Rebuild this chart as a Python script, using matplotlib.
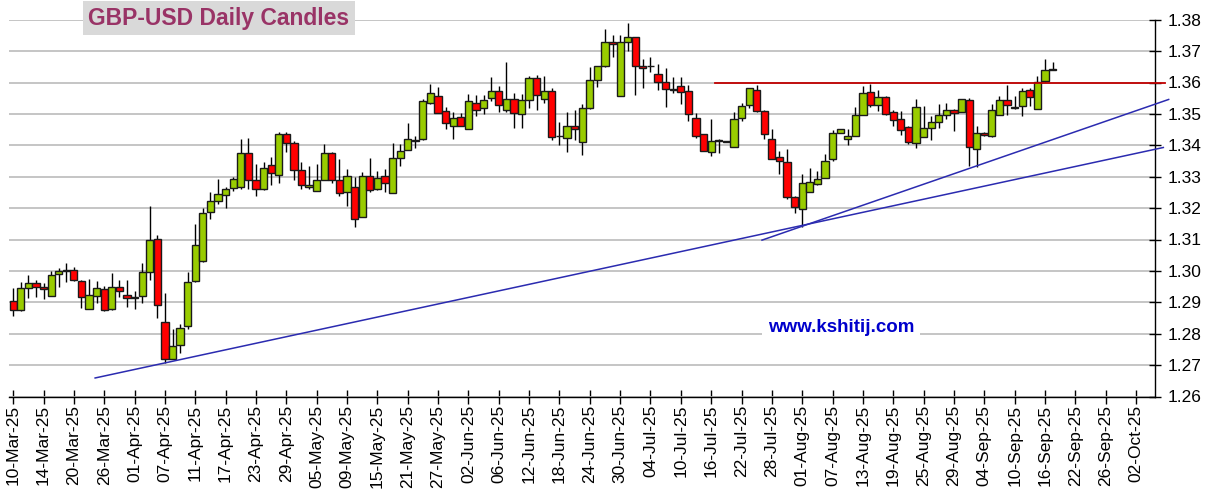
import matplotlib
matplotlib.use("Agg")
import matplotlib.pyplot as plt
import numpy as np

plt.rcParams['font.family'] = ['Liberation Sans', 'DejaVu Sans']

tick_labels = ["10-Mar-25", "14-Mar-25", "20-Mar-25", "26-Mar-25", "01-Apr-25", "07-Apr-25",
               "11-Apr-25", "17-Apr-25", "23-Apr-25", "29-Apr-25", "05-May-25", "09-May-25",
               "15-May-25", "21-May-25", "27-May-25", "02-Jun-25", "06-Jun-25", "12-Jun-25",
               "18-Jun-25", "24-Jun-25", "30-Jun-25", "04-Jul-25", "10-Jul-25", "16-Jul-25",
               "22-Jul-25", "28-Jul-25", "01-Aug-25", "07-Aug-25", "13-Aug-25", "19-Aug-25",
               "25-Aug-25", "29-Aug-25", "04-Sep-25", "10-Sep-25", "16-Sep-25", "22-Sep-25",
               "26-Sep-25", "02-Oct-25"]

opens = [1.2904, 1.2876, 1.2945, 1.2961, 1.2950, 1.2920, 1.2989, 1.3000, 1.3002, 1.2967,
         1.2879, 1.2920, 1.2941, 1.2879, 1.2948, 1.2922, 1.2913, 1.2920, 1.2996, 1.3101,
         1.2836, 1.2721, 1.2765, 1.2825, 1.2968, 1.3030, 1.3189, 1.3222, 1.3243, 1.3265,
         1.3268, 1.3376, 1.3291, 1.3260, 1.3337, 1.3304, 1.3436, 1.3408, 1.3320, 1.3268,
         1.3256, 1.3291, 1.3376, 1.3291, 1.3251, 1.3267, 1.3171, 1.3301, 1.3262, 1.3301,
         1.3248, 1.3360, 1.3385, 1.3416, 1.3421, 1.3536, 1.3557, 1.3509, 1.3463, 1.3490,
         1.3451, 1.3536, 1.3520, 1.3552, 1.3573, 1.3511, 1.3549, 1.3499, 1.3545, 1.3614,
         1.3548, 1.3574, 1.3431, 1.3422, 1.3460, 1.3412, 1.3518, 1.3607, 1.3651, 1.3729,
         1.3557, 1.3729, 1.3744, 1.3651, 1.3651, 1.3627, 1.3603, 1.3580, 1.3589, 1.3572,
         1.3488, 1.3435, 1.3379, 1.3417, 1.3413, 1.3395, 1.3488, 1.3527, 1.3577, 1.3509,
         1.3419, 1.3363, 1.3346, 1.3235, 1.3197, 1.3251, 1.3278, 1.3296, 1.3355, 1.3438,
         1.3421, 1.3431, 1.3496, 1.3570, 1.3527, 1.3554, 1.3507, 1.3484, 1.3459, 1.3407,
         1.3426, 1.3455, 1.3474, 1.3495, 1.3514, 1.3506, 1.3543, 1.3388, 1.3439, 1.3431,
         1.3495, 1.3543, 1.3523, 1.3525, 1.3575, 1.3516, 1.3605, 1.3643]
highs = [1.2945, 1.2964, 1.2987, 1.2971, 1.2961, 1.2999, 1.3009, 1.3024, 1.3012, 1.2971,
         1.2973, 1.2969, 1.2951, 1.2993, 1.2971, 1.2971, 1.2935, 1.3024, 1.3207, 1.3114,
         1.2931, 1.2814, 1.2830, 1.2998, 1.3148, 1.3201, 1.3251, 1.3293, 1.3268, 1.3300,
         1.3421, 1.3424, 1.3339, 1.3347, 1.3363, 1.3443, 1.3443, 1.3413, 1.3346, 1.3334,
         1.3339, 1.3403, 1.3378, 1.3357, 1.3323, 1.3299, 1.3314, 1.3360, 1.3317, 1.3323,
         1.3406, 1.3403, 1.3470, 1.3430, 1.3547, 1.3595, 1.3587, 1.3523, 1.3506, 1.3502,
         1.3563, 1.3559, 1.3559, 1.3619, 1.3589, 1.3665, 1.3566, 1.3563, 1.3622, 1.3624,
         1.3622, 1.3582, 1.3473, 1.3507, 1.3513, 1.3531, 1.3648, 1.3651, 1.3771, 1.3752,
         1.3752, 1.3789, 1.3746, 1.3676, 1.3680, 1.3659, 1.3646, 1.3619, 1.3619, 1.3593,
         1.3504, 1.3437, 1.3485, 1.3420, 1.3415, 1.3506, 1.3536, 1.3584, 1.3591, 1.3511,
         1.3453, 1.3381, 1.3387, 1.3237, 1.3310, 1.3328, 1.3317, 1.3371, 1.3449, 1.3451,
         1.3451, 1.3523, 1.3589, 1.3595, 1.3576, 1.3556, 1.3514, 1.3509, 1.3461, 1.3546,
         1.3525, 1.3493, 1.3530, 1.3536, 1.3516, 1.3548, 1.3552, 1.3461, 1.3441, 1.3530,
         1.3557, 1.3591, 1.3557, 1.3584, 1.3584, 1.3621, 1.3675, 1.3664]
lows = [1.2857, 1.2871, 1.2913, 1.2918, 1.2910, 1.2920, 1.2950, 1.2966, 1.2969, 1.2883,
        1.2879, 1.2898, 1.2871, 1.2874, 1.2918, 1.2884, 1.2879, 1.2898, 1.2971, 1.2851,
        1.2707, 1.2718, 1.2740, 1.2815, 1.2965, 1.3028, 1.3166, 1.3212, 1.3201, 1.3254,
        1.3262, 1.3260, 1.3237, 1.3257, 1.3275, 1.3281, 1.3378, 1.3291, 1.3262, 1.3262,
        1.3254, 1.3289, 1.3281, 1.3237, 1.3207, 1.3139, 1.3171, 1.3251, 1.3259, 1.3250,
        1.3248, 1.3333, 1.3385, 1.3392, 1.3416, 1.3531, 1.3502, 1.3451, 1.3419, 1.3463,
        1.3451, 1.3493, 1.3499, 1.3541, 1.3506, 1.3506, 1.3456, 1.3454, 1.3520, 1.3513,
        1.3534, 1.3417, 1.3401, 1.3380, 1.3417, 1.3369, 1.3516, 1.3587, 1.3649, 1.3680,
        1.3557, 1.3701, 1.3561, 1.3584, 1.3633, 1.3577, 1.3523, 1.3566, 1.3531, 1.3478,
        1.3424, 1.3381, 1.3365, 1.3374, 1.3409, 1.3395, 1.3477, 1.3520, 1.3507, 1.3419,
        1.3355, 1.3309, 1.3229, 1.3184, 1.3141, 1.3251, 1.3275, 1.3296, 1.3349, 1.3438,
        1.3400, 1.3431, 1.3496, 1.3523, 1.3509, 1.3498, 1.3463, 1.3434, 1.3404, 1.3391,
        1.3426, 1.3416, 1.3455, 1.3484, 1.3445, 1.3506, 1.3334, 1.3330, 1.3431, 1.3426,
        1.3495, 1.3498, 1.3516, 1.3493, 1.3525, 1.3516, 1.3602, 1.3640]
closes = [1.2876, 1.2945, 1.2961, 1.2948, 1.2941, 1.2986, 1.3000, 1.3003, 1.2971, 1.2916,
          1.2924, 1.2945, 1.2876, 1.2950, 1.2935, 1.2913, 1.2918, 1.2996, 1.3098, 1.2890,
          1.2718, 1.2761, 1.2817, 1.2966, 1.3082, 1.3185, 1.3222, 1.3246, 1.3262, 1.3293,
          1.3376, 1.3288, 1.3260, 1.3328, 1.3313, 1.3436, 1.3408, 1.3320, 1.3275, 1.3275,
          1.3291, 1.3376, 1.3291, 1.3249, 1.3301, 1.3166, 1.3301, 1.3259, 1.3296, 1.3280,
          1.3360, 1.3383, 1.3419, 1.3414, 1.3541, 1.3565, 1.3504, 1.3470, 1.3486, 1.3463,
          1.3541, 1.3513, 1.3545, 1.3573, 1.3527, 1.3547, 1.3502, 1.3545, 1.3614, 1.3559,
          1.3573, 1.3426, 1.3430, 1.3460, 1.3452, 1.3520, 1.3607, 1.3651, 1.3729, 1.3722,
          1.3729, 1.3744, 1.3651, 1.3646, 1.3653, 1.3603, 1.3579, 1.3576, 1.3569, 1.3500,
          1.3431, 1.3381, 1.3415, 1.3414, 1.3411, 1.3485, 1.3525, 1.3581, 1.3509, 1.3435,
          1.3355, 1.3351, 1.3235, 1.3203, 1.3280, 1.3283, 1.3293, 1.3351, 1.3440, 1.3451,
          1.3431, 1.3495, 1.3568, 1.3527, 1.3554, 1.3501, 1.3482, 1.3448, 1.3409, 1.3523,
          1.3455, 1.3474, 1.3498, 1.3511, 1.3504, 1.3546, 1.3394, 1.3439, 1.3433, 1.3511,
          1.3543, 1.3527, 1.3519, 1.3573, 1.3555, 1.3600, 1.3641, 1.3640]

# trend / resistance lines (index, price)
trend_long = ([10.8, 151.6], [1.2659, 1.3393])
trend_steep = ([98.7, 152.3], [1.3098, 1.3546])
resistance = ([92.5, 151.8], [1.3597, 1.3597])

W, H = 1219, 497
fig = plt.figure(figsize=(W / 100, H / 100), dpi=100)
ax = fig.add_axes([9.4 / W, (H - 396.5) / H, (1155 - 9.4) / W, (396.5 - 19.7) / H])

n_cat = 151
ax.set_xlim(-0.5, n_cat - 0.5)
ax.set_ylim(1.26, 1.38)

yt = np.round(np.arange(1.26, 1.3801, 0.01), 2)
ax.set_yticks(yt)
ax.set_yticklabels([f"{v:.2f}" for v in yt])
ax.yaxis.tick_right()
ax.grid(axis='y', color='#c0c0c0', linewidth=1.3)
ax.set_axisbelow(True)

for s in ['left', 'top']:
    ax.spines[s].set_visible(False)
for s in ['bottom', 'right']:
    ax.spines[s].set_color('black')
    ax.spines[s].set_linewidth(1.0)

ax.set_xticks(range(0, 4 * len(tick_labels), 4))
ax.set_xticklabels(tick_labels, rotation=90, va='top', ha='center')
ax.tick_params(axis='x', direction='inout', length=10, width=1, pad=1, labelsize=12.5)
ax.tick_params(axis='y', direction='inout', length=8, width=1, pad=5, labelsize=12.5,
               right=True, left=False)

o = np.array(opens); h = np.array(highs); l = np.array(lows); c = np.array(closes)
x = np.arange(len(o))
up = c >= o
ax.vlines(x, l, h, color='black', linewidth=1.0, zorder=2)
bottom = np.minimum(o, c)
height = np.maximum(np.abs(c - o), 0.00012)
colors = np.where(up, '#99cc00', '#ff0000')
ax.bar(x, height, bottom=bottom, width=0.95, color=colors, edgecolor='#1a1a1a',
       linewidth=1.0, zorder=3)

ax.plot(*trend_long, color='#2b2bb0', linewidth=1.1, clip_on=False, zorder=4)
ax.plot(*trend_steep, color='#2b2bb0', linewidth=1.1, clip_on=False, zorder=4)
ax.plot(*resistance, color='#c00000', linewidth=1.3, clip_on=False, zorder=4)

fig.text(219 / W, 1 - 18 / H, "GBP-USD Daily Candles", ha='center', va='center',
         fontsize=16.5, fontweight='bold', color='#993366',
         bbox=dict(facecolor='#d9d9d9', edgecolor='none', boxstyle='square,pad=0.25'))
fig.text(841 / W, 1 - 327 / H, "www.kshitij.com", ha='center', va='center',
         fontsize=13.5, fontweight='bold', color='#0000cc',
         bbox=dict(facecolor='white', edgecolor='none', boxstyle='square,pad=0.3'))

fig.savefig("out.png", dpi=100)
